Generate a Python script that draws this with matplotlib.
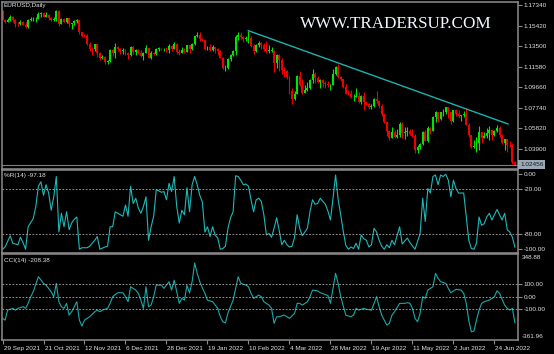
import matplotlib
matplotlib.use("Agg")
import matplotlib.pyplot as plt
import matplotlib.transforms as mtrans
import numpy as np

# ---------------- data ----------------
opens = [1.1681, 1.1596, 1.1580, 1.1595, 1.1621, 1.1597, 1.1554, 1.1553, 1.1572, 1.1552,
 1.1530, 1.1595, 1.1599, 1.1600, 1.1607, 1.1653, 1.1655, 1.1623, 1.1644, 1.1609,
 1.1598, 1.1603, 1.1681, 1.1558, 1.1608, 1.1580, 1.1609, 1.1555, 1.1568, 1.1588,
 1.1593, 1.1479, 1.1446, 1.1444, 1.1368, 1.1320, 1.1319, 1.1370, 1.1287, 1.1236,
 1.1250, 1.1198, 1.1209, 1.1317, 1.1290, 1.1338, 1.1320, 1.1302, 1.1316, 1.1287,
 1.1265, 1.1343, 1.1292, 1.1316, 1.1284, 1.1258, 1.1289, 1.1330, 1.1240, 1.1283,
 1.1280, 1.1328, 1.1328, 1.1322, 1.1327, 1.1310, 1.1350, 1.1324, 1.1370, 1.1300,
 1.1289, 1.1313, 1.1297, 1.1359, 1.1325, 1.1367, 1.1443, 1.1455, 1.1413, 1.1407,
 1.1325, 1.1343, 1.1311, 1.1344, 1.1326, 1.1302, 1.1240, 1.1142, 1.1147, 1.1234,
 1.1271, 1.1303, 1.1440, 1.1455, 1.1440, 1.1417, 1.1422, 1.1425, 1.1349, 1.1306,
 1.1357, 1.1375, 1.1360, 1.1321, 1.1308, 1.1308, 1.1308, 1.1192, 1.1270, 1.1220,
 1.1123, 1.1118, 1.1064, 1.0929, 1.0854, 1.0903, 1.1074, 1.0985, 1.0912, 1.0942,
 1.0955, 1.1035, 1.1093, 1.1050, 1.1016, 1.1030, 1.1006, 1.0998, 1.0984, 1.0985,
 1.1088, 1.1157, 1.1066, 1.1046, 1.0970, 1.0903, 1.0901, 1.0876, 1.0876, 1.0886,
 1.0828, 1.0888, 1.0826, 1.0809, 1.0780, 1.0788, 1.0853, 1.0835, 1.0796, 1.0713,
 1.0640, 1.0559, 1.0497, 1.0545, 1.0506, 1.0523, 1.0622, 1.0541, 1.0550, 1.0560,
 1.0529, 1.0513, 1.0380, 1.0412, 1.0435, 1.0552, 1.0464, 1.0586, 1.0563, 1.0692,
 1.0734, 1.0675, 1.0733, 1.0733, 1.0779, 1.0733, 1.0648, 1.0751, 1.0719, 1.0694,
 1.0707, 1.0717, 1.0616, 1.0518, 1.0409, 1.0415, 1.0444, 1.0547, 1.0493, 1.0509,
 1.0536, 1.0566, 1.0522, 1.0554, 1.0584, 1.0518, 1.0443, 1.0484, 1.0426, 1.0424,
 1.0266]
highs = [1.1686, 1.1605, 1.1609, 1.1640, 1.1627, 1.1604, 1.1572, 1.1593, 1.1586, 1.1572,
 1.1600, 1.1624, 1.1624, 1.1624, 1.1669, 1.1667, 1.1667, 1.1665, 1.1646, 1.1625,
 1.1625, 1.1692, 1.1692, 1.1617, 1.1614, 1.1616, 1.1617, 1.1570, 1.1592, 1.1608,
 1.1595, 1.1484, 1.1464, 1.1465, 1.1386, 1.1342, 1.1374, 1.1374, 1.1300, 1.1266,
 1.1255, 1.1224, 1.1327, 1.1321, 1.1383, 1.1350, 1.1335, 1.1333, 1.1323, 1.1300,
 1.1355, 1.1352, 1.1326, 1.1328, 1.1310, 1.1293, 1.1360, 1.1336, 1.1305, 1.1299,
 1.1335, 1.1345, 1.1336, 1.1334, 1.1338, 1.1369, 1.1360, 1.1386, 1.1377, 1.1322,
 1.1346, 1.1332, 1.1364, 1.1362, 1.1375, 1.1448, 1.1482, 1.1478, 1.1429, 1.1411,
 1.1355, 1.1369, 1.1363, 1.1344, 1.1331, 1.1310, 1.1248, 1.1174, 1.1241, 1.1280,
 1.1314, 1.1450, 1.1484, 1.1483, 1.1448, 1.1446, 1.1495, 1.1443, 1.1370, 1.1366,
 1.1395, 1.1393, 1.1375, 1.1395, 1.1359, 1.1344, 1.1316, 1.1274, 1.1273, 1.1240,
 1.1151, 1.1124, 1.1067, 1.0957, 1.0931, 1.1081, 1.1120, 1.1044, 1.0985, 1.1017,
 1.1042, 1.1137, 1.1112, 1.1071, 1.1043, 1.1046, 1.1024, 1.1028, 1.0993, 1.1137,
 1.1169, 1.1185, 1.1076, 1.1048, 1.0997, 1.0937, 1.0940, 1.0906, 1.0956, 1.0924,
 1.0894, 1.0924, 1.0835, 1.0819, 1.0815, 1.0866, 1.0936, 1.0849, 1.0806, 1.0721,
 1.0654, 1.0571, 1.0593, 1.0566, 1.0580, 1.0641, 1.0642, 1.0600, 1.0600, 1.0580,
 1.0578, 1.0530, 1.0425, 1.0445, 1.0562, 1.0566, 1.0607, 1.0600, 1.0696, 1.0748,
 1.0738, 1.0736, 1.0765, 1.0787, 1.0779, 1.0737, 1.0756, 1.0764, 1.0750, 1.0709,
 1.0749, 1.0774, 1.0631, 1.0522, 1.0474, 1.0506, 1.0601, 1.0550, 1.0545, 1.0583,
 1.0606, 1.0578, 1.0570, 1.0615, 1.0606, 1.0530, 1.0487, 1.0487, 1.0463, 1.0445,
 1.0276]
lows = [1.1592, 1.1563, 1.1574, 1.1587, 1.1580, 1.1529, 1.1541, 1.1547, 1.1550, 1.1524,
 1.1524, 1.1585, 1.1584, 1.1571, 1.1602, 1.1625, 1.1619, 1.1618, 1.1590, 1.1585,
 1.1585, 1.1586, 1.1535, 1.1555, 1.1576, 1.1570, 1.1528, 1.1513, 1.1552, 1.1569,
 1.1464, 1.1433, 1.1432, 1.1365, 1.1309, 1.1263, 1.1308, 1.1250, 1.1225, 1.1227,
 1.1186, 1.1185, 1.1204, 1.1262, 1.1235, 1.1307, 1.1281, 1.1274, 1.1270, 1.1227,
 1.1262, 1.1277, 1.1271, 1.1273, 1.1253, 1.1222, 1.1282, 1.1235, 1.1234, 1.1263,
 1.1267, 1.1302, 1.1315, 1.1307, 1.1298, 1.1286, 1.1302, 1.1321, 1.1280, 1.1272,
 1.1285, 1.1285, 1.1294, 1.1286, 1.1314, 1.1360, 1.1438, 1.1399, 1.1396, 1.1315,
 1.1311, 1.1306, 1.1309, 1.1286, 1.1263, 1.1235, 1.1136, 1.1121, 1.1140, 1.1215,
 1.1262, 1.1267, 1.1408, 1.1413, 1.1391, 1.1400, 1.1375, 1.1340, 1.1281, 1.1294,
 1.1344, 1.1325, 1.1305, 1.1290, 1.1288, 1.1294, 1.1106, 1.1150, 1.1120, 1.1089,
 1.1065, 1.1040, 1.0900, 1.0806, 1.0850, 1.0900, 1.0982, 1.0902, 1.0910, 1.0935,
 1.0946, 1.1010, 1.1005, 1.1003, 1.0961, 1.0965, 1.0961, 1.0967, 1.0945, 1.0985,
 1.1082, 1.1057, 1.1027, 1.0960, 1.0902, 1.0894, 1.0870, 1.0837, 1.0873, 1.0820,
 1.0809, 1.0757, 1.0800, 1.0760, 1.0761, 1.0782, 1.0824, 1.0771, 1.0697, 1.0635,
 1.0515, 1.0472, 1.0493, 1.0490, 1.0494, 1.0505, 1.0492, 1.0483, 1.0509, 1.0518,
 1.0503, 1.0354, 1.0349, 1.0389, 1.0430, 1.0462, 1.0460, 1.0531, 1.0557, 1.0642,
 1.0642, 1.0660, 1.0700, 1.0717, 1.0681, 1.0627, 1.0641, 1.0701, 1.0683, 1.0652,
 1.0687, 1.0613, 1.0506, 1.0398, 1.0397, 1.0359, 1.0382, 1.0445, 1.0490, 1.0490,
 1.0470, 1.0471, 1.0508, 1.0550, 1.0505, 1.0437, 1.0383, 1.0366, 1.0411, 1.0250,
 1.0240]
closes = [1.1596, 1.1580, 1.1595, 1.1621, 1.1597, 1.1554, 1.1553, 1.1572, 1.1552, 1.1530,
 1.1595, 1.1599, 1.1600, 1.1607, 1.1653, 1.1655, 1.1623, 1.1644, 1.1609, 1.1598,
 1.1603, 1.1681, 1.1558, 1.1608, 1.1580, 1.1609, 1.1555, 1.1568, 1.1588, 1.1593,
 1.1479, 1.1446, 1.1444, 1.1368, 1.1320, 1.1319, 1.1370, 1.1287, 1.1236, 1.1250,
 1.1198, 1.1209, 1.1317, 1.1290, 1.1338, 1.1320, 1.1302, 1.1316, 1.1287, 1.1265,
 1.1343, 1.1292, 1.1316, 1.1284, 1.1258, 1.1289, 1.1330, 1.1240, 1.1283, 1.1280,
 1.1328, 1.1328, 1.1322, 1.1327, 1.1310, 1.1350, 1.1324, 1.1370, 1.1300, 1.1289,
 1.1313, 1.1297, 1.1359, 1.1325, 1.1367, 1.1443, 1.1455, 1.1413, 1.1407, 1.1325,
 1.1343, 1.1311, 1.1344, 1.1326, 1.1302, 1.1240, 1.1142, 1.1147, 1.1234, 1.1271,
 1.1303, 1.1440, 1.1455, 1.1440, 1.1417, 1.1422, 1.1425, 1.1349, 1.1306, 1.1357,
 1.1375, 1.1360, 1.1321, 1.1308, 1.1308, 1.1308, 1.1192, 1.1270, 1.1220, 1.1123,
 1.1118, 1.1064, 1.0929, 1.0854, 1.0903, 1.1074, 1.0985, 1.0912, 1.0942, 1.0955,
 1.1035, 1.1093, 1.1050, 1.1016, 1.1030, 1.1006, 1.0998, 1.0984, 1.0985, 1.1088,
 1.1157, 1.1066, 1.1046, 1.0970, 1.0903, 1.0901, 1.0876, 1.0876, 1.0886, 1.0828,
 1.0888, 1.0826, 1.0809, 1.0780, 1.0788, 1.0853, 1.0835, 1.0796, 1.0713, 1.0640,
 1.0559, 1.0497, 1.0545, 1.0506, 1.0523, 1.0622, 1.0541, 1.0550, 1.0560, 1.0529,
 1.0513, 1.0380, 1.0412, 1.0435, 1.0552, 1.0464, 1.0586, 1.0563, 1.0692, 1.0734,
 1.0675, 1.0733, 1.0733, 1.0779, 1.0733, 1.0648, 1.0751, 1.0719, 1.0694, 1.0707,
 1.0717, 1.0616, 1.0518, 1.0409, 1.0415, 1.0444, 1.0547, 1.0493, 1.0509, 1.0536,
 1.0566, 1.0522, 1.0554, 1.0584, 1.0518, 1.0443, 1.0484, 1.0426, 1.0424, 1.0266,
 1.02456]

date_labels = ["29 Sep 2021", "21 Oct 2021", "12 Nov 2021", "6 Dec 2021", "28 Dec 2021",
               "19 Jan 2022", "10 Feb 2022", "4 Mar 2022", "28 Mar 2022", "19 Apr 2022",
               "11 May 2022", "2 Jun 2022", "24 Jun 2022"]
date_bars = [0, 16, 32, 48, 64, 80, 96, 112, 128, 144, 160, 176, 192]

price_ticks = [1.17340, 1.15420, 1.13500, 1.11580, 1.09660, 1.07740, 1.05820, 1.03900]
last_price = 1.02456

trend_bars = [95.9, 197.3]
trend_prices = [1.1495, 1.0624]

wpr_bars = [0, 1, 3, 4, 6, 7, 8, 9, 10, 12, 13, 14, 15, 16, 17, 18, 19, 20, 21, 22,
 23, 24, 25, 26, 27, 28, 29, 30, 31, 33, 34, 36, 37, 38, 40, 41, 42, 43, 44, 45,
 47, 48, 49, 50, 51, 52, 53, 54, 55, 56, 57, 58, 59, 60, 61, 62, 63, 64, 65, 66,
 67, 68, 69, 70, 71, 72, 73, 74, 75, 76, 77, 78, 79, 80, 81, 82, 83, 84, 85, 86,
 87, 88, 89, 90, 91, 92, 93, 94, 95, 96, 97, 98, 99, 100, 101, 102, 103, 104, 105, 106,
 107, 108, 109, 110, 111, 112, 113, 114, 115, 116, 117, 118, 119, 120, 121, 122, 123, 124, 126, 127,
 128, 129, 130, 131, 132, 133, 134, 135, 136, 137, 138, 139, 140, 141, 142, 143, 144, 145, 146, 147,
 148, 149, 150, 151, 152, 153, 155, 156, 158, 159, 161, 163, 164, 165, 166, 167, 168, 169, 170, 171,
 172, 173, 174, 175, 176, 177, 178, 180, 182, 183, 184, 185, 186, 187, 188, 189, 190, 191, 193, 195,
 196, 197, 198, 199, 200]
wpr_vals = [-100, -97, -82, -92, -94, -84, -91, -100, -70, -59, -43, -16, -10, -28, -14, -25, -48, -30, -3, -77,
 -52, -70, -50, -74, -65, -60, -57, -100, -98, -98, -96, -88, -83, -100, -97, -96, -70, -70, -50, -52,
 -56, -41, -56, -16, -39, -32, -45, -52, -43, -30, -88, -70, -56, -21, -22, -24, -23, -34, -12, -23,
 -3, -43, -65, -48, -54, -18, -50, -14, -3, -14, -28, -37, -77, -70, -83, -70, -81, -85, -100, -99,
 -96, -72, -58, -50, -2, -3, -8, -14, -13, -16, -34, -50, -34, -32, -36, -54, -81, -79, -84, -72,
 -58, -75, -94, -88, -94, -97, -96, -84, -54, -72, -82, -77, -72, -50, -34, -40, -39, -32, -40, -49,
 -61, -32, -1, -34, -54, -76, -95, -100, -97, -99, -92, -100, -81, -86, -88, -97, -94, -72, -77, -88,
 -96, -100, -94, -98, -88, -94, -70, -93, -85, -91, -100, -79, -32, -63, -19, -25, -3, -1, -14, -1,
 -3, 0, -8, -30, -8, -19, -25, -25, -88, -99, -100, -92, -57, -68, -66, -57, -52, -61, -47, -61,
 -52, -74, -77, -84, -97.18]

cci_bars = [0, 1, 2, 4, 5, 6, 8, 9, 10, 11, 12, 14, 15, 16, 17, 19, 20, 21, 22, 23,
 24, 25, 26, 27, 28, 29, 30, 31, 32, 33, 34, 36, 37, 38, 39, 41, 42, 43, 45, 47,
 48, 49, 50, 52, 53, 54, 55, 56, 57, 58, 59, 60, 62, 63, 65, 66, 67, 68, 69, 70,
 71, 72, 73, 74, 75, 76, 77, 78, 79, 80, 82, 84, 85, 86, 87, 88, 90, 91, 92, 93,
 95, 96, 97, 98, 100, 101, 102, 104, 105, 106, 107, 108, 110, 111, 112, 114, 115, 116, 117, 119,
 120, 121, 123, 124, 127, 128, 130, 131, 132, 134, 136, 137, 138, 139, 141, 142, 144, 145, 146, 147,
 148, 150, 151, 152, 153, 155, 157, 158, 159, 160, 161, 162, 163, 164, 165, 166, 168, 169, 170, 171,
 173, 174, 175, 177, 179, 180, 181, 182, 183, 184, 185, 186, 187, 188, 190, 191, 192, 193, 194, 196,
 197, 198, 199, 200]
cci_vals = [-173, -187, -107, -93, -107, -93, -80, -93, -53, 0, 40, 160, 133, 107, 93, 40, 0, 107, -40, -80,
 -93, -53, -147, -120, -80, -40, -187, -235, -187, -173, -160, -120, -107, -120, -107, -93, -53, 0, 32, 32,
 0, -40, 80, 53, 27, -27, -93, 80, -80, -67, 0, 93, 93, 67, 120, 53, 133, 40, -53, -13,
 -27, 90, 30, 120, 270, 187, 120, 70, 27, -27, -40, -93, -160, -200, -210, -130, -27, 67, 160, 107,
 93, 80, 27, -13, 13, 0, -40, -67, -93, -213, -160, -160, -147, -160, -173, -133, -53, -53, -67, -40,
 0, 53, 47, 32, 10, -53, 187, 107, 0, -147, -160, -147, -93, -107, -93, -100, -107, -53, 0, -80,
 -147, -227, -213, -147, -120, -53, -53, -48, -53, -93, -173, -200, -133, 0, -13, 53, 80, 187, 147, 120,
 107, 67, 32, 59, 53, 27, -53, -190, -280, -275, -187, -107, -53, -40, -27, -13, 0, 47, 27, -67,
 -93, -107, -93, -208.38]

wpr_levels = [-20, -80]
cci_levels = [100, 0, -100]
wpr_ticks = [0, -20, -80, -100]
cci_ticks = [100, 0, -100]
cci_max_label, cci_min_label = 348.88, -361.96

# ---------------- figure ----------------
W, H = 554, 354
fig = plt.figure(figsize=(W / 100, H / 100), dpi=100, facecolor="black")

def rect(x0, y0, x1, y1):
    return [x0 / W, 1 - y1 / H, (x1 - x0) / W, (y1 - y0) / H]

FRAME = "#8c8c8c"
TXT = "#e2e2e2"
FONT = "Liberation Sans"
FS = 4.6

ax = fig.add_axes(rect(2, 2, 518, 169))
ax2 = fig.add_axes(rect(2, 170, 518, 253))
ax3 = fig.add_axes(rect(2, 254, 518, 340))

for a in (ax, ax2, ax3):
    a.set_facecolor("black")
    for s in a.spines.values():
        s.set_color(FRAME)
        s.set_linewidth(1.1)
    a.set_xlim(-0.2, 201.2)
    a.yaxis.tick_right()
    a.tick_params(axis="y", colors=FRAME, length=3, width=0.8, pad=1,
                  labelsize=FS, labelcolor=TXT)
    a.tick_params(axis="x", colors=FRAME, length=3, width=0.8, pad=1,
                  labelsize=FS, labelcolor=TXT)

# candles
idx = np.arange(len(closes))
o = np.array(opens); c = np.array(closes); h = np.array(highs); l = np.array(lows)
up = c >= o
cols = np.where(up, "#00e600", "#f00000")
ax.vlines(idx, l, h, colors=cols, linewidth=0.8)
body_lo = np.minimum(o, c)
body_h = np.maximum(np.abs(c - o), 0.00025)
ax.bar(idx, body_h, bottom=body_lo, width=0.75, color=cols, linewidth=0)

ax.set_ylim(1.02039, 1.17620)
ax.set_yticks(price_ticks)
ax.set_yticklabels([f"{v:.5f}" for v in price_ticks], fontfamily=FONT)
ax.set_xticks([])
ax.axhline(last_price, color="#708090", linewidth=0.8)
ax.plot(trend_bars, trend_prices, color="#1cb2b2", linewidth=1.0)
ax.text(1.004, last_price, f"{last_price:.5f}",
        transform=mtrans.blended_transform_factory(ax.transAxes, ax.transData),
        ha="left", va="center", fontsize=FS, family=FONT, color="#1a1a1a",
        bbox=dict(boxstyle="square,pad=0.25", facecolor="#9aa8b8", edgecolor="none"), clip_on=False)

# WPR
ax2.plot(wpr_bars, wpr_vals, color="#1fb8b8", linewidth=0.8)
for lv in wpr_levels:
    ax2.axhline(lv, color="#b0b0b0", linewidth=0.6, linestyle=(0, (2, 2)))
ax2.set_ylim(-105, 5.7)
ax2.set_yticks(wpr_ticks)
ax2.set_yticklabels([f"{v:.2f}" for v in wpr_ticks], fontfamily=FONT)
ax2.set_xticks([])

# CCI
ax3.plot(cci_bars, cci_vals, color="#1ca8a8", linewidth=0.8)
for lv in cci_levels:
    ax3.axhline(lv, color="#b0b0b0", linewidth=0.6, linestyle=(0, (2, 2)))
ax3.set_ylim(-346, 341.6)
ax3.set_yticks(cci_ticks)
ax3.set_yticklabels([f"{v:.2f}" for v in cci_ticks], fontfamily=FONT)
ax3.text(1.008, 0.99, f"{cci_max_label:.2f}", transform=ax3.transAxes, ha="left", va="top",
         fontsize=FS, family=FONT, color=TXT)
ax3.text(1.008, 0.01, f"{cci_min_label:.2f}", transform=ax3.transAxes, ha="left", va="bottom",
         fontsize=FS, family=FONT, color=TXT)
ax3.set_xticks(date_bars)
ax3.set_xticklabels(date_labels, fontfamily=FONT)
shift = mtrans.ScaledTranslation(1 / 100, 0, fig.dpi_scale_trans)
for lbl in ax3.get_xticklabels():
    lbl.set_ha("left")
    lbl.set_transform(lbl.get_transform() + shift)

# panel titles
fig.text(4 / W, 1 - 6 / H, "EURUSD,Daily", fontsize=FS, family=FONT, color=TXT, va="center")
fig.text(4 / W, 1 - 175.5 / H, "%R(14) -97.18", fontsize=FS, family=FONT, color=TXT, va="center")
fig.text(4 / W, 1 - 260.5 / H, "CCI(14) -208.38", fontsize=FS, family=FONT, color=TXT, va="center")

# watermark
fig.text(396 / W, 1 - 24 / H, "WWW.TRADERSUP.COM", fontsize=12.3, family="Liberation Serif",
         color="#f2f6ff", ha="center", va="center")

fig.savefig("out.png", dpi=100, facecolor="black")
